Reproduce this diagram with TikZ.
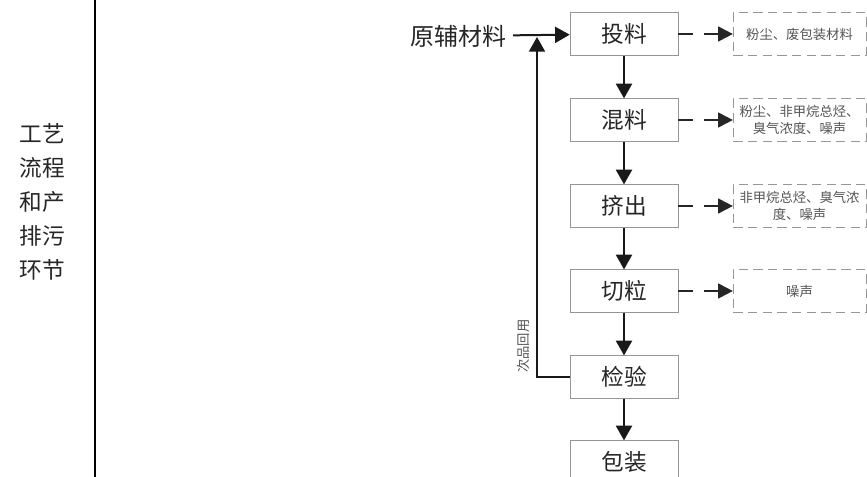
\documentclass[tikz,border=0pt]{standalone}
\usepackage{fontspec}
\setmainfont{Noto Sans CJK SC}
\usetikzlibrary{arrows.meta}
\definecolor{boxgray}{RGB}{150,150,150}
\definecolor{notegray}{RGB}{85,85,85}

\begin{document}
\begin{tikzpicture}[x=0.75pt, y=-0.75pt,
      stepbox/.style={rectangle, draw=boxgray, minimum width=81pt, minimum height=32pt, inner sep=0pt, font=\fontsize{17}{20}\selectfont, text=black!85},
      emitbox/.style={rectangle, draw=boxgray, dash pattern=on 7pt off 4pt, minimum width=99.5pt, minimum height=32pt, inner sep=1pt, align=center, font=\fontsize{10}{13}\selectfont, text=notegray},
      flow/.style={-{Triangle[length=11pt, width=12pt]}, line width=1.5pt, black!90},
      emit/.style={-{Triangle[length=11pt, width=11pt]}, line width=1.5pt, black!85, dash pattern=on 11pt off 8pt}
    ]
      \useasboundingbox (0,0) rectangle (867,477);
      \fill (94,0) rectangle (96,477);

      \node[align=center, font=\fontsize{17}{25.5}\selectfont, text=black!85] (side) at (42,202) {工艺\\流程\\和产\\排污\\环节};

      \node[stepbox] (feed) at (624,34) {投料};
      \node[stepbox] (mix) at (624,120) {混料};
      \node[stepbox] (extrude) at (624,206) {挤出};
      \node[stepbox] (cut) at (624,291) {切粒};
      \node[stepbox] (check) at (624,377) {检验};
      \node[stepbox] (pack) at (624,462) {包装};

      \node[font=\fontsize{18}{20}\selectfont, text=black!85, anchor=east, inner sep=0pt, outer sep=5pt] (raw) at (513,36) {原辅材料};
      \coordinate (join) at (537,37);

      \node[emitbox] (dust) at (799.5,34) {粉尘、废包装材料};
      \node[emitbox] (mixout) at (799.5,120) {粉尘、非甲烷总烃、\\臭气浓度、噪声};
      \node[emitbox] (extout) at (799.5,206) {非甲烷总烃、臭气浓\\度、噪声};
      \node[emitbox] (noise) at (799.5,291) {噪声};

      \draw[flow] (raw) -- (feed);
      \draw[flow] (feed) -- (mix);
      \draw[flow] (mix) -- (extrude);
      \draw[flow] (extrude) -- (cut);
      \draw[flow] (cut) -- (check);
      \draw[flow] (check) -- (pack);
      \draw[flow] (check) -| (join);

      \draw[emit] (feed) -- (dust);
      \draw[emit] (mix) -- (mixout);
      \draw[emit] (extrude) -- (extout);
      \draw[emit] (cut) -- (noise);

      \node[rotate=90, font=\fontsize{10}{12}\selectfont, text=notegray] (reuse) at (523,346) {次品回用};
    \end{tikzpicture}
\end{document}
